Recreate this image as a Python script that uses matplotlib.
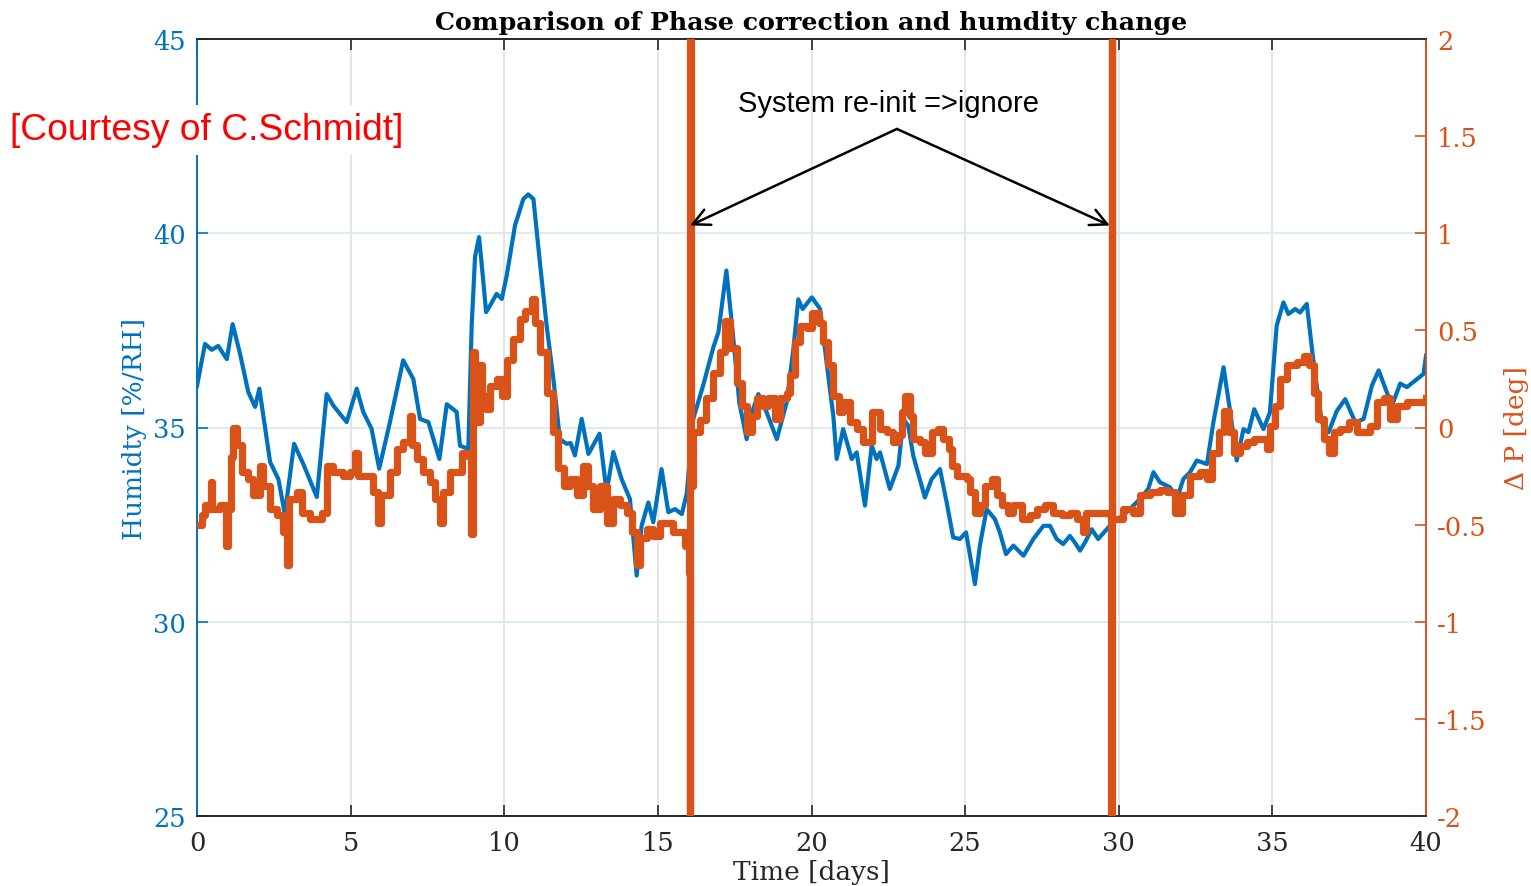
import matplotlib
matplotlib.use("Agg")
import matplotlib.pyplot as plt
import numpy as np

# ---------------- data ----------------
t_hum = [0.0, 0.26, 0.48, 0.69, 0.97, 1.16, 1.4, 1.67, 1.89, 2.03, 2.16, 2.38, 2.65, 2.86,
         3.16, 3.46, 3.9, 4.22, 4.44, 4.87, 5.2, 5.41, 5.68, 5.93, 6.28, 6.71, 7.04, 7.26,
         7.53, 7.89, 8.13, 8.45, 8.56, 8.83, 8.94, 9.05, 9.18, 9.27, 9.41, 9.54, 9.75, 9.92,
         10.08, 10.35, 10.62, 10.78, 10.95, 11.16, 11.38, 11.6, 11.81, 12.03, 12.16, 12.3,
         12.52, 12.74, 13.1, 13.33, 13.55, 13.82, 14.09, 14.31, 14.47, 14.69, 14.85, 15.12,
         15.34, 15.56, 15.78, 15.94, 16.15, 16.48, 16.8, 16.97, 17.23, 17.43, 17.65, 17.89,
         18.1, 18.27, 18.54, 18.87, 19.19, 19.41, 19.57, 19.71, 20.01, 20.28, 20.49, 20.71,
         20.82, 21.03, 21.31, 21.47, 21.74, 21.96, 22.12, 22.23, 22.55, 22.83, 22.99, 23.15,
         23.31, 23.69, 23.91, 24.18, 24.4, 24.61, 24.83, 25.03, 25.16, 25.32, 25.48, 25.7,
         25.97, 26.13, 26.33, 26.57, 26.9, 27.22, 27.55, 27.76, 27.98, 28.19, 28.41, 28.57,
         28.74, 28.9, 29.12, 29.33, 29.71, 30.26, 30.69, 30.96, 31.13, 31.34, 31.67, 31.89,
         32.1, 32.32, 32.54, 32.87, 33.08, 33.41, 33.63, 33.84, 34.06, 34.22, 34.41, 34.71,
         34.92, 35.14, 35.36, 35.52, 35.74, 35.9, 36.12, 36.34, 36.61, 36.83, 37.1, 37.37,
         37.7, 37.97, 38.24, 38.46, 38.68, 38.89, 39.16, 39.38, 39.65, 39.92, 40.0]
humidity = [36.07, 37.15, 37.0, 37.1, 36.76, 37.66, 36.9, 35.91, 35.53, 36.0, 35.3, 34.11,
            33.67, 32.77, 34.58, 34.06, 33.21, 35.86, 35.56, 35.14, 36.0, 35.4, 34.97, 33.94,
            35.14, 36.73, 36.25, 35.22, 35.14, 34.19, 35.6, 35.4, 34.53, 34.45, 37.62, 39.4,
            39.9, 39.17, 37.97, 38.14, 38.44, 38.31, 38.91, 40.2, 40.88, 41.0, 40.88, 39.25,
            37.62, 36.25, 34.7, 34.58, 34.6, 34.28, 35.22, 34.32, 34.84, 33.34, 34.37, 33.67,
            33.16, 31.19, 32.47, 33.07, 32.56, 33.93, 32.82, 32.9, 32.77, 33.3, 35.22, 36.1,
            37.05, 37.45, 39.04, 37.5, 35.64, 34.7, 35.47, 35.86, 35.39, 34.7, 35.64, 37.02,
            38.3, 38.05, 38.35, 38.05, 36.68, 35.3, 34.19, 34.96, 34.19, 34.36, 32.99, 34.53,
            34.19, 34.36, 33.42, 34.02, 35.22, 35.04, 34.28, 33.2, 33.67, 33.93, 33.07, 32.17,
            32.13, 32.3, 31.7, 30.97, 31.96, 32.9, 32.64, 32.3, 31.74, 31.96, 31.7, 32.13,
            32.47, 32.47, 32.13, 32.0, 32.21, 32.04, 31.83, 32.04, 32.38, 32.13, 32.47, 32.82,
            33.16, 33.42, 33.85, 33.59, 33.46, 33.16, 33.67, 33.85, 34.15, 34.06, 35.13, 36.55,
            35.39, 34.15, 34.96, 34.88, 35.47, 34.96, 35.39, 37.62, 38.22, 37.92, 38.05, 37.96,
            38.18, 36.68, 35.13, 34.88, 35.43, 35.73, 35.13, 35.22, 36.08, 36.47, 36.0, 35.56,
            36.13, 36.04, 36.21, 36.38, 36.85]

t_phase = [0.0, 0.15, 0.25, 0.35, 0.45, 0.5, 0.75, 0.95, 1.0, 1.1, 1.16, 1.3, 1.45, 1.67,
           1.83, 2.05, 2.15, 2.38, 2.59, 2.81, 2.92, 3.0, 3.25, 3.41, 3.68, 4.06, 4.22, 4.44,
           4.76, 4.98, 5.15, 5.25, 5.41, 5.74, 5.9, 5.98, 6.28, 6.5, 6.71, 6.93, 7.0, 7.15,
           7.37, 7.58, 7.75, 7.91, 8.0, 8.23, 8.45, 8.61, 8.83, 8.92, 8.97, 9.05, 9.21, 9.27,
           9.41, 9.54, 9.75, 9.92, 10.08, 10.3, 10.51, 10.68, 10.89, 11.0, 11.16, 11.38, 11.6,
           11.76, 11.93, 12.14, 12.36, 12.57, 12.74, 12.9, 13.12, 13.33, 13.55, 13.77, 13.98,
           14.15, 14.31, 14.42, 14.64, 14.85, 15.07, 15.29, 15.5, 15.72, 15.88, 16.0, 16.03,
           16.05, 16.07, 16.15, 16.37, 16.58, 16.8, 17.02, 17.18, 17.34, 17.56, 17.73, 17.89,
           18.05, 18.21, 18.43, 18.6, 18.81, 18.98, 19.19, 19.3, 19.46, 19.63, 19.85, 20.01,
           20.23, 20.39, 20.55, 20.71, 20.88, 21.04, 21.25, 21.47, 21.68, 21.96, 22.23, 22.45,
           22.66, 22.83, 22.94, 23.05, 23.21, 23.31, 23.53, 23.69, 23.91, 24.13, 24.29, 24.46,
           24.56, 24.73, 25.05, 25.16, 25.32, 25.48, 25.65, 25.87, 26.03, 26.19, 26.41, 26.57,
           26.84, 27.11, 27.33, 27.6, 27.87, 28.14, 28.41, 28.63, 28.84, 28.95, 29.39, 29.71,
           29.75, 29.77, 29.79, 30.15, 30.47, 30.69, 31.02, 31.34, 31.56, 31.83, 32.05, 32.32,
           32.65, 32.87, 33.03, 33.25, 33.41, 33.58, 33.74, 33.95, 34.17, 34.39, 34.6, 34.82,
           34.93, 35.1, 35.26, 35.48, 35.8, 36.02, 36.18, 36.34, 36.5, 36.67, 36.83, 36.99,
           37.2, 37.48, 37.75, 37.97, 38.18, 38.4, 38.62, 38.83, 39.05, 39.38, 39.7, 40.0]
phase = [-0.50, -0.45, -0.40, -0.42, -0.28, -0.42, -0.40, -0.61, -0.42, -0.15, 0.0, -0.09,
         -0.23, -0.265, -0.35, -0.2, -0.3, -0.42, -0.45, -0.54, -0.71, -0.37, -0.33, -0.44,
         -0.47, -0.44, -0.2, -0.23, -0.25, -0.23, -0.13, -0.25, -0.25, -0.33, -0.49, -0.35,
         -0.23, -0.11, -0.076, 0.06, -0.09, -0.16, -0.23, -0.28, -0.37, -0.49, -0.33, -0.23,
         -0.23, -0.13, -0.145, -0.55, 0.39, 0.03, 0.32, 0.16, 0.095, 0.215, 0.25, 0.16, 0.35,
         0.455, 0.56, 0.6, 0.66, 0.54, 0.39, 0.18, -0.025, -0.21, -0.3, -0.265, -0.35, -0.2,
         -0.3, -0.42, -0.3, -0.49, -0.37, -0.4, -0.44, -0.54, -0.71, -0.57, -0.52, -0.56,
         -0.49, -0.49, -0.54, -0.54, -0.61, -0.75, -3.0, 3.0, -0.3, -0.025, 0.04, 0.15, 0.28,
         0.39, 0.55, 0.41, 0.23, 0.11, -0.025, 0.06, 0.15, 0.11, 0.15, 0.044, 0.15, 0.18,
         0.27, 0.44, 0.52, 0.51, 0.59, 0.54, 0.44, 0.32, 0.16, 0.08, 0.13, 0.027, -0.008,
         -0.076, 0.08, -0.008, -0.025, -0.076, -0.04, 0.08, 0.16, 0.06, -0.06, -0.076, -0.13,
         -0.025, -0.008, -0.06, -0.11, -0.2, -0.25, -0.265, -0.33, -0.44, -0.4, -0.3, -0.265,
         -0.35, -0.4, -0.44, -0.4, -0.47, -0.45, -0.42, -0.4, -0.44, -0.45, -0.44, -0.47,
         -0.54, -0.44, -0.44, -0.45, -3.0, 3.0, -0.47, -0.42, -0.44, -0.35, -0.33, -0.32,
         -0.33, -0.44, -0.35, -0.25, -0.23, -0.265, -0.13, -0.025, 0.087, -0.025, -0.13,
         -0.094, -0.076, -0.06, -0.06, -0.11, 0.01, 0.11, 0.25, 0.32, 0.335, 0.37, 0.32, 0.18,
         0.044, -0.06, -0.13, -0.025, -0.008, 0.027, -0.025, -0.025, 0.01, 0.13, 0.15, 0.044,
         0.11, 0.13, 0.13, 0.15]

x_ticks = [0, 5, 10, 15, 20, 25, 30, 35, 40]
hum_ticks = [25, 30, 35, 40, 45]
phase_ticks = [-2, -1.5, -1, -0.5, 0, 0.5, 1, 1.5, 2]
phase_ticklabels = ["-2", "-1.5", "-1", "-0.5", "0", "0.5", "1", "1.5", "2"]

title = "Comparison of Phase correction and humdity change"
xlabel = "Time [days]"
ylabel_left = "Humidty [%/RH]"
ylabel_right = "\u0394 P [deg]"
note = "System re-init =>ignore"
courtesy = "[Courtesy of C.Schmidt]"
reinit_days = [16.05, 29.71]

# ---------------- style ----------------
BLUE = "#0072BD"
ORANGE = "#D95319"
DARK = "#262626"
serif = "DejaVu Serif"
sans = "Liberation Sans"
TICK_FS = 18.5
LABEL_FS = 19

fig = plt.figure(figsize=(15.31, 8.87), dpi=100)
ax1 = fig.add_axes([197 / 1531, 1 - 817 / 887, (1426 - 197) / 1531, (817 - 40) / 887])
ax2 = ax1.twinx()

ax1.plot(t_hum, humidity, color=BLUE, lw=3.0, solid_joinstyle="round", zorder=3)
ax2.plot(t_phase, phase, color=ORANGE, lw=5.2, drawstyle="steps-post", zorder=3)

ax1.set_xlim(0, 40)
ax1.set_ylim(25, 45)
ax2.set_ylim(-2, 2)

ax1.set_xticks(x_ticks)
ax1.set_xticklabels([str(v) for v in x_ticks], fontfamily=serif, fontsize=TICK_FS, color=DARK)
ax1.set_yticks(hum_ticks)
ax1.set_yticklabels([str(v) for v in hum_ticks], fontfamily=serif, fontsize=TICK_FS, color=BLUE)
ax2.set_yticks(phase_ticks)
ax2.set_yticklabels(phase_ticklabels, fontfamily=serif, fontsize=TICK_FS, color=ORANGE)

# grid
ax1.xaxis.grid(True, color="#e0e0e0", lw=1.2, zorder=0)
ax1.yaxis.grid(True, color="#d6e8f5", lw=1.2, zorder=0)
ax1.set_axisbelow(True)

# ticks
ax1.tick_params(axis="x", direction="in", length=8, width=1.2, color=DARK, top=True,
                pad=10)
ax1.tick_params(axis="y", direction="in", length=8, width=1.2, color=BLUE, pad=8)
ax2.tick_params(axis="y", direction="in", length=8, width=1.2, color=ORANGE, pad=8)

for sp in ["top", "bottom"]:
    ax1.spines[sp].set_color(DARK)
    ax2.spines[sp].set_color(DARK)
ax1.spines["left"].set_color(BLUE)
ax2.spines["left"].set_color(BLUE)
ax2.spines["right"].set_color(ORANGE)
ax1.spines["right"].set_color(ORANGE)
for a in (ax1, ax2):
    for sp in a.spines.values():
        sp.set_linewidth(1.2)

ax1.set_title(title, fontfamily=serif, fontweight="bold", fontsize=18.2, color="black",
              pad=7)
ax1.set_xlabel(xlabel, fontfamily=serif, fontsize=LABEL_FS, color=DARK, labelpad=3)
ax1.set_ylabel(ylabel_left, fontfamily=serif, fontsize=LABEL_FS, color=BLUE, labelpad=4)
ax2.set_ylabel(ylabel_right, fontfamily=serif, fontsize=LABEL_FS, color=ORANGE, labelpad=12)

# annotation
tail = (22.78, 1.537)
for xd in reinit_days:
    ax2.annotate("", xy=(xd, 1.04), xytext=tail,
                 arrowprops=dict(arrowstyle="->", color="black", lw=1.8,
                                 mutation_scale=30, shrinkA=0, shrinkB=0), zorder=5)
ax2.text(22.52, 1.67, note, fontfamily=sans, fontsize=21, color="black",
         ha="center", va="center", zorder=5)

fig.text(10 / 1531, 1 - 131 / 887, courtesy, fontfamily=sans, fontsize=26.8, color="red",
         ha="left", va="center",
         bbox=dict(facecolor="white", edgecolor="none", pad=5), zorder=10)

fig.savefig("out.png", dpi=100)
